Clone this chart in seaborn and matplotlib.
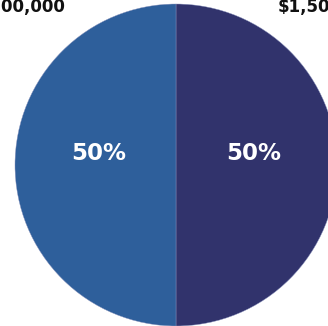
import matplotlib.pyplot as plt
import seaborn as sns

# Data
segments = ["Left", "Right"]
amounts = [1500000, 1500000]
colors = ["#2E5F9B", "#31336C"]

sns.set_theme(style="white")
plt.rcParams["font.family"] = ["DejaVu Sans"]

fig = plt.figure(figsize=(3.28, 3.26), dpi=100)
ax = fig.add_axes([15 / 328, 0.0, 322 / 328, 322 / 326])

# pie, left slice counter-clockwise from top, right slice clockwise
wedges, texts, autotexts = ax.pie(
    amounts[::-1],
    colors=colors[::-1],
    startangle=90,
    counterclock=False,
    radius=1.0,
    autopct="%1.0f%%",
    pctdistance=0.48,
    wedgeprops=dict(linewidth=0.3, edgecolor="#8a93bd"),
    textprops=dict(color="white", fontsize=16.5, fontweight="bold"),
)
for t in autotexts:
    x, y = t.get_position()
    t.set_position((x, y + 0.07))

ax.set_xlim(-1, 1)
ax.set_ylim(-1, 1)
ax.set_aspect("equal")
ax.axis("off")

# amount labels at the top corners (cropped by the figure edge)
fig.text(65 / 328, 1 - 7 / 326, "${:,}".format(amounts[0]), ha="right", va="center",
         fontsize=12, fontweight="bold", color="#111111")
fig.text(278 / 328, 1 - 7 / 326, "${:,}".format(amounts[1]), ha="left", va="center",
         fontsize=12, fontweight="bold", color="#111111")

fig.savefig("out.png", dpi=100)
